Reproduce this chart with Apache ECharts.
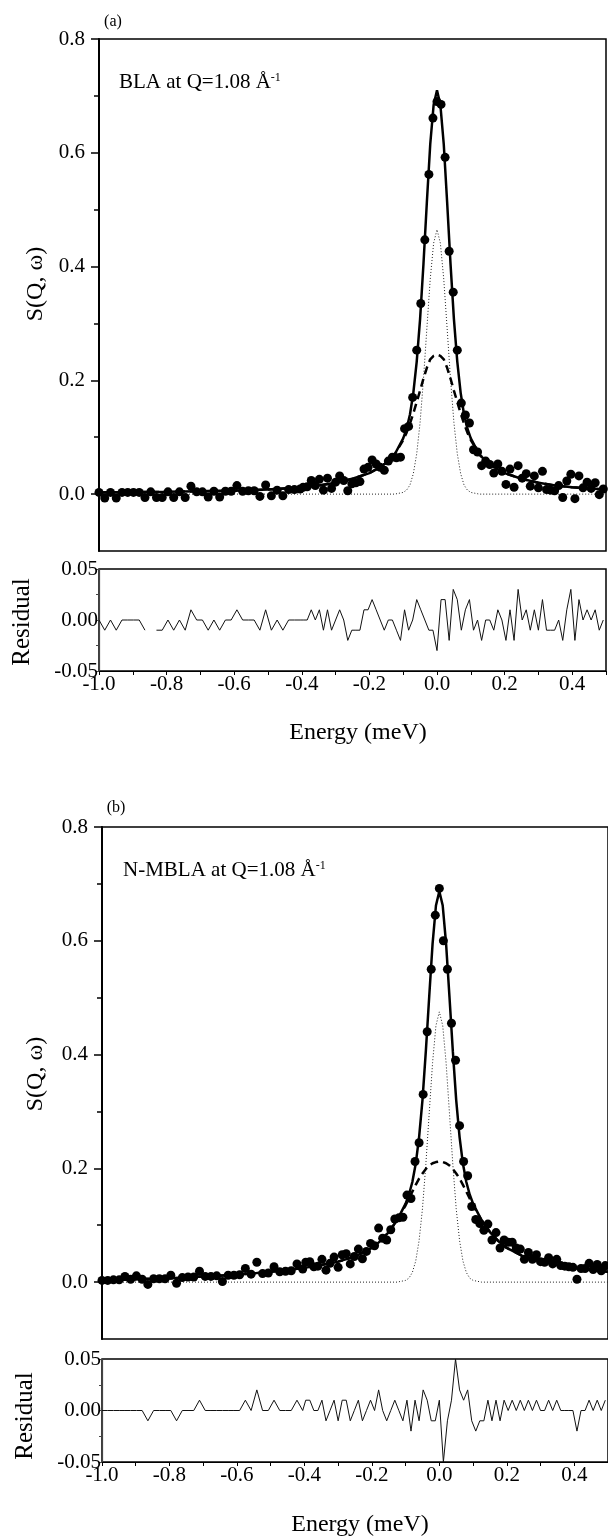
<!DOCTYPE html>
<html>
<head>
<meta charset="utf-8">
<script src="https://cdn.jsdelivr.net/npm/echarts@6.0.0/dist/echarts.min.js"></script>
<style>
  html, body { margin: 0; padding: 0; background: #fff; }
  #chart { width: 608px; height: 1539px; }
</style>
</head>
<body>
<div id="chart"></div>
<script>
// energy grid shared by both measurements (meV)
const energy = [
  -1.000, -0.983, -0.966, -0.949, -0.932, -0.915, -0.898, -0.881, -0.864, -0.847,
  -0.830, -0.813, -0.796, -0.779, -0.762, -0.745, -0.728, -0.711, -0.694, -0.677,
  -0.660, -0.643, -0.626, -0.609, -0.592, -0.575, -0.558, -0.541, -0.524, -0.507,
  -0.490, -0.473, -0.456, -0.439, -0.422, -0.405,
  -0.396, -0.384, -0.372, -0.360, -0.348, -0.336, -0.324, -0.312, -0.300, -0.288,
  -0.276, -0.264, -0.252, -0.240, -0.228, -0.216, -0.204, -0.192, -0.180, -0.168,
  -0.156, -0.144, -0.132, -0.120, -0.108, -0.096, -0.084, -0.072, -0.060, -0.048,
  -0.036, -0.024, -0.012, 0.000, 0.012, 0.024, 0.036, 0.048, 0.060, 0.072,
  0.084, 0.096, 0.108, 0.120, 0.132, 0.144, 0.156, 0.168, 0.180, 0.192,
  0.204, 0.216, 0.228, 0.240, 0.252, 0.264, 0.276, 0.288, 0.300, 0.312,
  0.324, 0.336, 0.348, 0.360, 0.372, 0.384, 0.396, 0.408, 0.420, 0.432,
  0.444, 0.456, 0.468, 0.480, 0.492
];

// (a) BLA measured S(Q,w) and residual
const sqwA = [
  0.003, -0.007, 0.003, -0.007, 0.003, 0.003, 0.003, 0.003, -0.006, 0.004,
  -0.006, -0.006, 0.004, -0.006, 0.004, -0.006, 0.014, 0.004, 0.004, -0.005,
  0.005, -0.005, 0.005, 0.005, 0.015, 0.005, 0.006, 0.006, -0.004, 0.016,
  -0.003, 0.007, -0.003, 0.008, 0.008, 0.009,
  0.012, 0.013, 0.024, 0.015, 0.026, 0.007, 0.028, 0.010, 0.021, 0.032,
  0.024, 0.006, 0.018, 0.020, 0.022, 0.044, 0.047, 0.060, 0.053, 0.047,
  0.042, 0.058, 0.065, 0.064, 0.065, 0.115, 0.119, 0.170, 0.253, 0.335,
  0.447, 0.562, 0.661, 0.690, 0.685, 0.592, 0.427, 0.355, 0.253, 0.160,
  0.139, 0.125, 0.078, 0.074, 0.050, 0.058, 0.052, 0.037, 0.053, 0.040,
  0.017, 0.044, 0.012, 0.050, 0.028, 0.036, 0.014, 0.032, 0.011, 0.040,
  0.008, 0.007, 0.006, 0.015, -0.006, 0.023, 0.035, -0.008, 0.032, 0.011,
  0.021, 0.010, 0.020, -0.001, 0.009
];
const residA = [
  0, -0.01, 0, -0.01, 0, 0, 0, 0, -0.01, null,
  -0.01, -0.01, 0, -0.01, 0, -0.01, 0.01, 0, 0, -0.01,
  0, -0.01, 0, 0, 0.01, 0, 0, 0, -0.01, 0.01,
  -0.01, 0, -0.01, 0, 0, 0,
  0, 0, 0.01, 0, 0.01, -0.01, 0.01, -0.01, 0, 0.01,
  0, -0.02, -0.01, -0.01, -0.01, 0.01, 0.01, 0.02, 0.01, 0,
  -0.01, 0, 0, -0.01, -0.02, 0.01, -0.01, 0, 0.02, 0.01,
  0, -0.01, -0.01, -0.03, 0.02, 0.02, -0.02, 0.03, 0.02, -0.01,
  0.01, 0.02, -0.01, 0, -0.02, 0, 0, -0.01, 0.01, 0,
  -0.02, 0.01, -0.02, 0.03, 0, 0.01, -0.01, 0.01, -0.01, 0.02,
  -0.01, -0.01, -0.01, 0, -0.02, 0.01, 0.03, -0.02, 0.02, 0,
  0.01, 0, 0.01, -0.01, 0
];

// (b) N-MBLA measured S(Q,w) and residual
const sqwB = [
  0.003, 0.003, 0.004, 0.004, 0.010, 0.005, 0.011, 0.005, -0.004, 0.006,
  0.006, 0.006, 0.012, -0.002, 0.008, 0.009, 0.009, 0.019, 0.010, 0.010,
  0.011, 0.001, 0.012, 0.012, 0.013, 0.024, 0.014, 0.035, 0.015, 0.016,
  0.027, 0.018, 0.019, 0.020, 0.032, 0.023,
  0.035, 0.036, 0.027, 0.028, 0.040, 0.021, 0.033, 0.044, 0.026, 0.048,
  0.050, 0.032, 0.045, 0.058, 0.041, 0.054, 0.068, 0.064, 0.095, 0.077,
  0.074, 0.092, 0.111, 0.113, 0.114, 0.153, 0.147, 0.212, 0.245, 0.330,
  0.440, 0.550, 0.645, 0.692, 0.600, 0.550, 0.455, 0.390, 0.275, 0.212,
  0.187, 0.133, 0.110, 0.103, 0.091, 0.102, 0.074, 0.087, 0.060, 0.074,
  0.070, 0.070, 0.060, 0.058, 0.040, 0.052, 0.040, 0.048, 0.036, 0.035,
  0.043, 0.032, 0.040, 0.029, 0.028, 0.027, 0.026, 0.005, 0.024, 0.024,
  0.033, 0.022, 0.031, 0.020, 0.029
];
const residB = [
  0, 0, 0, 0, 0, 0, 0, 0, -0.01, 0,
  0, 0, 0, -0.01, 0, 0, 0, 0.01, 0, 0,
  0, 0, 0, 0, 0, 0.01, 0, 0.02, 0, 0,
  0.01, 0, 0, 0, 0.01, 0,
  0.01, 0.01, 0, 0, 0.01, -0.01, 0, 0.01, -0.01, 0.01,
  0.01, -0.01, 0, 0.01, -0.01, 0, 0.01, 0, 0.02, 0,
  -0.01, 0, 0.01, 0, -0.01, 0.01, -0.02, 0.01, -0.01, 0.02,
  0.01, -0.01, -0.01, 0.01, -0.05, -0.01, 0.01, 0.05, 0.02, 0.01,
  0.02, -0.01, -0.02, -0.01, -0.01, 0.01, -0.01, 0.01, -0.01, 0.01,
  0, 0.01, 0, 0.01, 0, 0.01, 0, 0.01, 0, 0,
  0.01, 0, 0.01, 0, 0, 0, 0, -0.02, 0, 0,
  0.01, 0, 0.01, 0, 0.01
];

// fitted curves (total, quasielastic, elastic) sampled on their own grid
const fitE = [
  -1.0, -0.8, -0.6, -0.5, -0.4, -0.35, -0.3, -0.25, -0.2, -0.175, -0.15, -0.125,
  -0.1, -0.09, -0.08, -0.07, -0.06, -0.05, -0.04, -0.03, -0.02, -0.01, 0,
  0.01, 0.02, 0.03, 0.04, 0.05, 0.06, 0.07, 0.08, 0.09, 0.1,
  0.125, 0.15, 0.175, 0.2, 0.25, 0.3, 0.35, 0.4, 0.5
];
const totalA = [
  0.003, 0.004, 0.006, 0.008, 0.012, 0.015, 0.020, 0.027, 0.037, 0.045, 0.055, 0.070,
  0.098, 0.115, 0.140, 0.178, 0.233, 0.308, 0.405, 0.513, 0.615, 0.684, 0.710,
  0.684, 0.615, 0.513, 0.405, 0.308, 0.233, 0.178, 0.140, 0.115, 0.098,
  0.070, 0.055, 0.045, 0.037, 0.027, 0.020, 0.015, 0.012, 0.008
];
const quasiA = [
  0.003, 0.004, 0.006, 0.008, 0.012, 0.015, 0.020, 0.027, 0.037, 0.045, 0.055, 0.070,
  0.095, 0.108, 0.124, 0.142, 0.162, 0.182, 0.203, 0.222, 0.237, 0.243, 0.245,
  0.243, 0.237, 0.222, 0.203, 0.182, 0.162, 0.142, 0.124, 0.108, 0.095,
  0.070, 0.055, 0.045, 0.037, 0.027, 0.020, 0.015, 0.012, 0.008
];
const elasticA = [
  0, 0, 0, 0, 0, 0, 0, 0, 0, 0, 0, 0,
  0.003, 0.007, 0.016, 0.036, 0.071, 0.126, 0.202, 0.291, 0.378, 0.441, 0.465,
  0.441, 0.378, 0.291, 0.202, 0.126, 0.071, 0.036, 0.016, 0.007, 0.003,
  0, 0, 0, 0, 0, 0, 0, 0, 0
];
const totalB = [
  0.003, 0.007, 0.013, 0.018, 0.025, 0.030, 0.036, 0.045, 0.060, 0.072, 0.088, 0.109,
  0.138, 0.154, 0.176, 0.208, 0.255, 0.320, 0.406, 0.502, 0.595, 0.662, 0.687,
  0.662, 0.595, 0.502, 0.406, 0.320, 0.255, 0.208, 0.176, 0.154, 0.138,
  0.109, 0.088, 0.072, 0.060, 0.045, 0.036, 0.030, 0.025, 0.018
];
const quasiB = [
  0.003, 0.007, 0.013, 0.018, 0.025, 0.030, 0.036, 0.045, 0.060, 0.072, 0.088, 0.109,
  0.135, 0.147, 0.159, 0.171, 0.182, 0.191, 0.199, 0.205, 0.209, 0.211, 0.212,
  0.211, 0.209, 0.205, 0.199, 0.191, 0.182, 0.171, 0.159, 0.147, 0.135,
  0.109, 0.088, 0.072, 0.060, 0.045, 0.036, 0.030, 0.025, 0.018
];
const elasticB = [
  0, 0, 0, 0, 0, 0, 0, 0, 0, 0, 0, 0,
  0.003, 0.007, 0.017, 0.037, 0.073, 0.129, 0.207, 0.297, 0.386, 0.451, 0.475,
  0.451, 0.386, 0.297, 0.207, 0.129, 0.073, 0.037, 0.017, 0.007, 0.003,
  0, 0, 0, 0, 0, 0, 0, 0, 0
];

// tick positions / labels
const xLabelVals = [-1.0, -0.8, -0.6, -0.4, -0.2, 0.0, 0.2, 0.4];
const xTickVals = [-1.0, -0.9, -0.8, -0.7, -0.6, -0.5, -0.4, -0.3, -0.2, -0.1, 0.0, 0.1, 0.2, 0.3, 0.4, 0.5];
const yMainVals = [0.0, 0.2, 0.4, 0.6, 0.8];
const yMainMinor = [0.1, 0.3, 0.5, 0.7];
const yResVals = [-0.05, 0.0, 0.05];
const yResTicks = [-0.05, -0.025, 0.0, 0.025, 0.05];

const FONT = '"Liberation Serif", "Times New Roman", serif';

function pairs(xs, ys) {
  return xs.map((x, i) => [x, ys[i] === null ? '-' : ys[i]]);
}

// layout of the four plotting areas
const grids = [
  { left: 99, top: 39, width: 507, height: 512 },   // (a) main
  { left: 99, top: 569, width: 507, height: 102 },  // (a) residual
  { left: 102, top: 827, width: 507, height: 512 }, // (b) main
  { left: 102, top: 1359, width: 507, height: 103 } // (b) residual
].map((g) => ({ ...g, show: true, borderColor: '#000', borderWidth: 1.5, backgroundColor: 'transparent' }));

function mainX(gi) {
  return {
    type: 'value', gridIndex: gi, min: -1, max: 0.5,
    axisLine: { show: false }, axisTick: { show: false },
    axisLabel: { show: false }, splitLine: { show: false }
  };
}
function resX(gi) {
  return {
    type: 'value', gridIndex: gi, min: -1, max: 0.5,
    axisLine: { show: true, onZero: false, lineStyle: { color: '#000', width: 1.2 } },
    axisTick: { show: true, length: 4, customValues: xTickVals, lineStyle: { color: '#000' } },
    axisLabel: {
      customValues: xLabelVals, formatter: (v) => v.toFixed(1),
      fontFamily: FONT, fontSize: 21, color: '#000', margin: 3
    },
    splitLine: { show: false }
  };
}
function mainY(gi) {
  return {
    type: 'value', gridIndex: gi, min: -0.1, max: 0.8,
    axisLine: { show: true, onZero: false, lineStyle: { color: '#000', width: 2 } },
    axisTick: { show: true, length: 8, customValues: yMainVals, lineStyle: { color: '#000', width: 1.5 } },
    axisLabel: {
      customValues: yMainVals, formatter: (v) => v.toFixed(1),
      fontFamily: FONT, fontSize: 21, color: '#000', margin: 14
    },
    splitLine: { show: false }
  };
}
function minorY(gi) {
  return {
    type: 'value', gridIndex: gi, min: -0.1, max: 0.8, position: 'left',
    axisLine: { show: false, onZero: false },
    axisTick: { show: true, length: 5, customValues: yMainMinor, lineStyle: { color: '#000', width: 1.5 } },
    axisLabel: { show: false }, splitLine: { show: false }
  };
}
function resY(gi) {
  return {
    type: 'value', gridIndex: gi, min: -0.05, max: 0.05,
    axisLine: { show: true, onZero: false, lineStyle: { color: '#444', width: 1.2 } },
    axisTick: { show: true, length: 3, customValues: yResTicks, lineStyle: { color: '#444' } },
    axisLabel: {
      customValues: yResVals, formatter: (v) => v.toFixed(2),
      fontFamily: FONT, fontSize: 21, color: '#000', margin: 1
    },
    splitLine: { show: false }
  };
}

function panelSeries(xi, yi, rxi, ryi, sqw, resid, total, quasi, elastic) {
  return [
    {
      type: 'line', xAxisIndex: xi, yAxisIndex: yi, data: pairs(fitE, elastic),
      showSymbol: false, lineStyle: { color: '#222', width: 1, type: [1, 2] }, z: 2
    },
    {
      type: 'line', xAxisIndex: xi, yAxisIndex: yi, data: pairs(fitE, quasi),
      showSymbol: false, lineStyle: { color: '#000', width: 2.5, type: [8, 5] }, z: 3
    },
    {
      type: 'line', xAxisIndex: xi, yAxisIndex: yi, data: pairs(fitE, total),
      showSymbol: false, lineStyle: { color: '#000', width: 2.5 }, z: 4
    },
    {
      type: 'scatter', xAxisIndex: xi, yAxisIndex: yi, data: pairs(energy, sqw),
      symbol: 'circle', symbolSize: 9, itemStyle: { color: '#000', opacity: 1 }, z: 5
    },
    {
      type: 'line', xAxisIndex: rxi, yAxisIndex: ryi, data: pairs(energy, resid),
      showSymbol: false, connectNulls: false, lineStyle: { color: '#111', width: 1 }, z: 3
    }
  ];
}

function txt(x, y, text, size, rotate) {
  return {
    type: 'text', x: x, y: y, rotation: rotate ? Math.PI / 2 : 0,
    style: { text: text, fontFamily: FONT, fontSize: size, fill: '#000', align: 'center', verticalAlign: 'middle' }
  };
}
function label(x, y, name) {
  return {
    type: 'text', x: x, y: y,
    style: {
      text: '{n|' + name + ' at Q=1.08 Å}{s|-1}',
      align: 'left', verticalAlign: 'middle',
      rich: {
        n: { fontFamily: FONT, fontSize: 21, fill: '#000' },
        s: { fontFamily: FONT, fontSize: 12, fill: '#000', verticalAlign: 'top' }
      }
    }
  };
}

const chart = echarts.init(document.getElementById('chart'), null, { renderer: 'canvas' });
chart.setOption({
  animation: false,
  backgroundColor: '#fff',
  grid: grids,
  xAxis: [mainX(0), resX(1), mainX(2), resX(3)],
  yAxis: [mainY(0), minorY(0), resY(1), mainY(2), minorY(2), resY(3)],
  series: [
    ...panelSeries(0, 0, 1, 2, sqwA, residA, totalA, quasiA, elasticA),
    ...panelSeries(2, 3, 3, 5, sqwB, residB, totalB, quasiB, elasticB)
  ],
  graphic: [
    txt(113, 22, '(a)', 16),
    label(119, 82, 'BLA'),
    txt(36, 284, 'S(Q, ω)', 24, true),
    txt(22, 622, 'Residual', 25, true),
    txt(358, 733, 'Energy (meV)', 24),
    txt(116, 808, '(b)', 16),
    label(123, 870, 'N-MBLA'),
    txt(36, 1074, 'S(Q, ω)', 24, true),
    txt(25, 1416, 'Residual', 25, true),
    txt(360, 1525, 'Energy (meV)', 24)
  ]
});
</script>
</body>
</html>
